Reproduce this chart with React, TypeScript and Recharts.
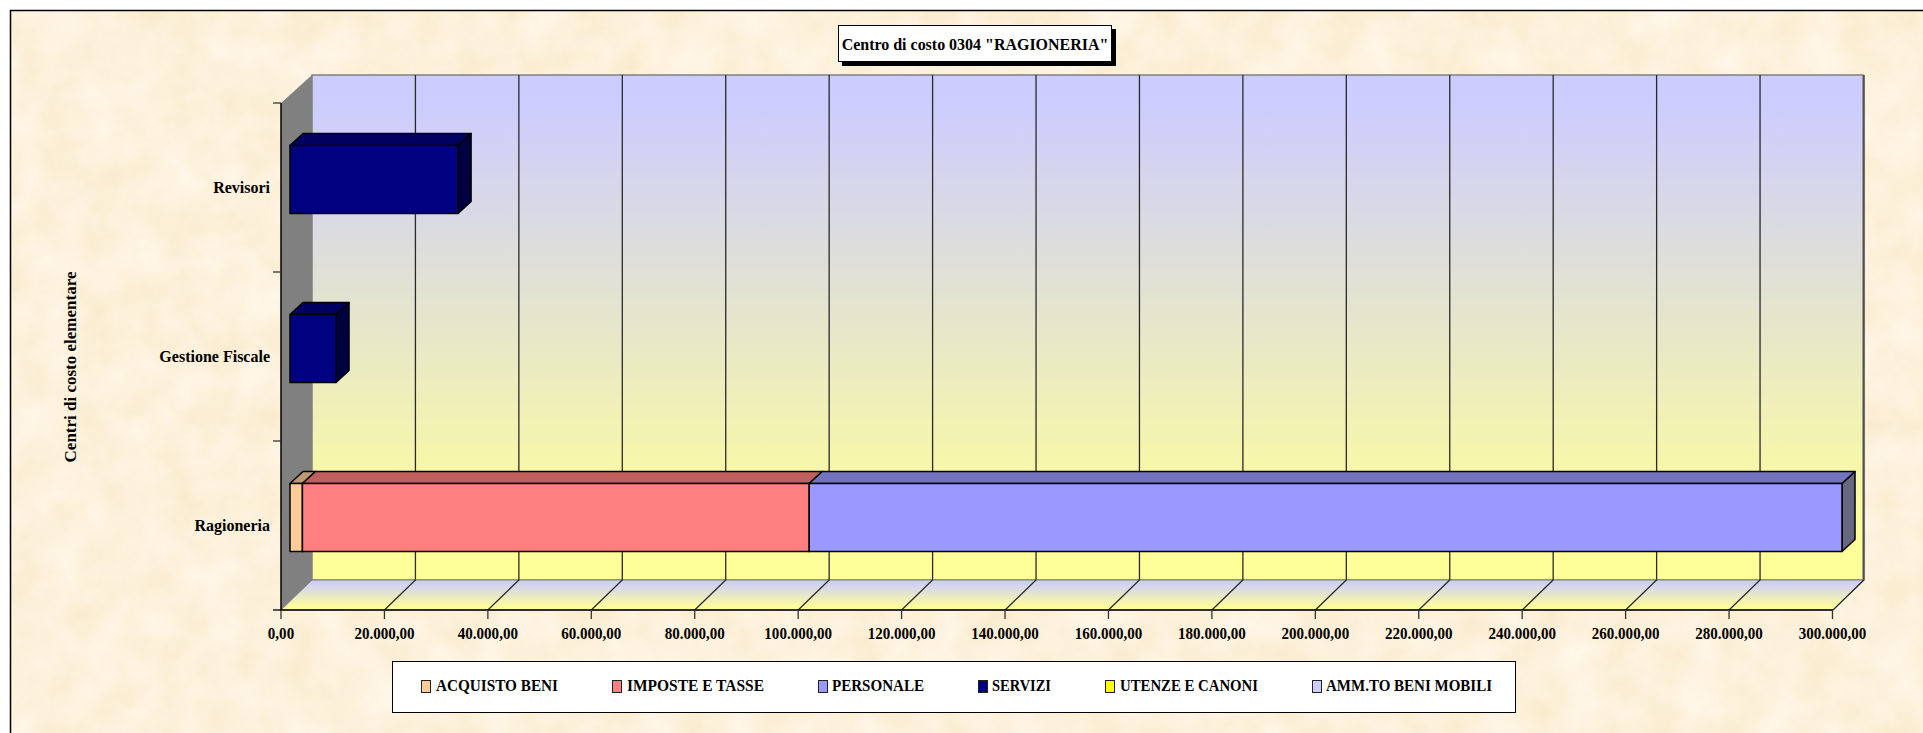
import { BarChart, Bar, XAxis, YAxis, CartesianGrid, Legend } from 'recharts';

const categories = ['Revisori', 'Gestione Fiscale', 'Ragioneria'];
const acquisto = [0, 0, 2400];
const imposte = [0, 0, 98000];
const personale = [0, 0, 199700];
const servizi = [32500, 8900, 0];
const utenze = [0, 0, 0];
const ammto = [0, 0, 0];

const xTicks = [0, 20000, 40000, 60000, 80000, 100000, 120000, 140000, 160000, 180000, 200000, 220000, 240000, 260000, 280000, 300000];
const xTickLabels = ['0,00', '20.000,00', '40.000,00', '60.000,00', '80.000,00', '100.000,00', '120.000,00', '140.000,00', '160.000,00', '180.000,00', '200.000,00', '220.000,00', '240.000,00', '260.000,00', '280.000,00', '300.000,00'];

const seriesNames = ['ACQUISTO BENI', 'IMPOSTE E TASSE', 'PERSONALE', 'SERVIZI', 'UTENZE E CANONI', 'AMM.TO BENI MOBILI'];
const seriesColors = ['#FFCC99', '#FF8080', '#9999FF', '#000080', '#FFFF00', '#CCCCFF'];
const seriesValues = [acquisto, imposte, personale, servizi, utenze, ammto];
const seriesKeys = ['acquisto', 'imposte', 'personale', 'servizi', 'utenze', 'ammto'];

const data = categories.map((name, i) => {
  const row: Record<string, string | number> = { name };
  seriesKeys.forEach((k, s) => { row[k] = seriesValues[s][i]; });
  return row;
});

const FONT = '"Liberation Serif", serif';
const W = 1923;
const H = 733;
const LEFT = 281;
const RIGHT = 1833;
const TOP = 103;
const BOTTOM = 610;
const BACK_X = 31;
const BACK_BOTTOM = 580;
const BACK_TOP = 75;
const BAND = 169;

const legendSwatchX = [421, 612, 818, 978, 1105, 1312];
const legendTextX = [436, 627, 832, 992, 1120, 1326];
const legendTextW = [122, 137, 92, 59, 138, 166];

const shade = (hex: string, f: number, fb: number) => {
  const n = parseInt(hex.slice(1), 16);
  return `rgb(${Math.round(((n >> 16) & 255) * f)},${Math.round(((n >> 8) & 255) * f)},${Math.round((n & 255) * fb)})`;
};

// 3D box: the front face comes from the library's bar rectangle
const Box = (props: any) => {
  const { x, y, width, height, fill } = props;
  if (!width || width <= 0) return null;
  const fx = x + 9;
  const fy = y - 8.5;
  const dx = 13;
  const dy = 12;
  const r = fx + width;
  const b = fy + height;
  return (
    <g stroke="#000" strokeWidth={1.5} strokeLinejoin="round">
      <polygon points={`${r},${fy} ${r + dx},${fy - dy} ${r + dx},${b - dy} ${r},${b}`} fill={shade(fill, 0.67, 0.5)} />
      <polygon points={`${fx},${fy} ${fx + dx},${fy - dy} ${r + dx},${fy - dy} ${r},${fy}`} fill={shade(fill, 0.75, 0.75)} />
      <rect x={fx} y={fy} width={width} height={height} fill={fill} />
    </g>
  );
};

const GridLine = (props: any) => {
  const { x1, index } = props;
  if (index === 0 || index === xTicks.length - 1) return <g />;
  return (
    <polyline
      points={`${x1 + BACK_X},${BACK_TOP} ${x1 + BACK_X},${BACK_BOTTOM} ${x1},${BOTTOM}`}
      fill="none"
      stroke="#2a2a2a"
      strokeWidth={1.3}
    />
  );
};

const XTick = (props: any) => {
  const { x, y, index } = props;
  return (
    <g>
      <line x1={x} x2={x} y1={BOTTOM} y2={BOTTOM + 9} stroke="#333" strokeWidth={1.3} />
      <text transform={`translate(${x},${y + 21}) scale(0.94,1)`} textAnchor="middle" fontFamily={FONT} fontSize={16} fontWeight="bold" fill="#000">
        {xTickLabels[index]}
      </text>
    </g>
  );
};

const YTick = (props: any) => {
  const { x, y, payload, index } = props;
  return (
    <g>
      <line x1={x - 8} x2={x} y1={y - BAND / 2} y2={y - BAND / 2} stroke="#333" strokeWidth={1.3} />
      {index === categories.length - 1 && <line x1={x - 8} x2={x} y1={y + BAND / 2} y2={y + BAND / 2} stroke="#000" strokeWidth={1.3} />}
      <text x={x - 11} y={y + 5} textAnchor="end" fontFamily={FONT} fontSize={16} fontWeight="bold" fill="#000">
        {payload.value}
      </text>
    </g>
  );
};

const LegendBox = () => (
  <div style={{ position: 'absolute', left: 392, top: 661, width: 1122, height: 50, background: '#fff', border: '1px solid #000', boxSizing: 'content-box' }}>
    {seriesNames.map((name, i) => (
      <div key={name}>
        <div style={{ position: 'absolute', left: legendSwatchX[i] - 393, top: 18, width: 8, height: 11, background: seriesColors[i], border: '1.5px solid #222' }} />
        <svg style={{ position: 'absolute', left: legendTextX[i] - 393, top: 12, overflow: 'visible' }} width={legendTextW[i]} height={24}>
          <text x={0} y={17} textLength={legendTextW[i]} lengthAdjust="spacingAndGlyphs" fontFamily={FONT} fontSize={16} fontWeight="bold" fill="#000">{name}</text>
        </svg>
      </div>
    ))}
  </div>
);

export default function App() {
  return (
    <div style={{ position: 'absolute', left: 0, top: 0, width: W, height: H, background: '#fff', overflow: 'hidden' }}>
      <svg width={W} height={H} style={{ position: 'absolute', left: 0, top: 0 }}>
        <defs>
          <filter id="paper" x="0" y="0" width="100%" height="100%" colorInterpolationFilters="sRGB">
            <feTurbulence type="fractalNoise" baseFrequency="0.025" numOctaves={4} seed={7} />
            <feColorMatrix type="matrix" values="0 0 0 0.03 0.975  0 0 0 0.06 0.915  0 0 0 0.14 0.79  0 0 0 0 1" />
          </filter>
          <linearGradient id="wall" x1="0" y1="0" x2="0" y2="1">
            <stop offset="0.05" stopColor="#CCCCFF" />
            <stop offset="0.92" stopColor="#FFFF99" />
          </linearGradient>
        </defs>
        <rect x={10} y={10} width={W} height={H} filter="url(#paper)" />
        <polyline points={`10.5,${H} 10.5,10.5 ${W},10.5`} fill="none" stroke="#000" strokeWidth={1.5} />
        <polygon points={`${LEFT},${TOP} ${LEFT + BACK_X},${BACK_TOP} ${LEFT + BACK_X},${BACK_BOTTOM} ${LEFT},${BOTTOM}`} fill="#808080" />
        <rect x={LEFT + BACK_X} y={BACK_TOP} width={RIGHT + 30 - LEFT - BACK_X} height={BACK_BOTTOM - BACK_TOP} fill="url(#wall)" stroke="#808080" strokeWidth={1.5} />
        <polygon points={`${LEFT},${BOTTOM} ${LEFT + BACK_X},${BACK_BOTTOM} ${RIGHT + 30},${BACK_BOTTOM} ${RIGHT},${BOTTOM}`} fill="url(#wall)" stroke="#808080" strokeWidth={1} />
        <text transform="translate(76,367) rotate(-90)" textAnchor="middle" fontFamily={FONT} fontSize={17} fontWeight="bold" fill="#000">Centri di costo elementare</text>
      </svg>
      <BarChart
        width={W}
        height={H}
        data={data}
        layout="vertical"
        margin={{ top: TOP, right: W - RIGHT, bottom: H - BOTTOM - 30, left: 0 }}
        style={{ position: 'absolute', left: 0, top: 0 }}
      >
        <CartesianGrid horizontal={false} vertical={GridLine as any} />
        <XAxis
          type="number"
          domain={[0, 300000]}
          ticks={xTicks}
          interval={0}
          height={30}
          tick={XTick as any}
          tickLine={false}
          axisLine={{ stroke: '#000', strokeWidth: 1.5 }}
        />
        <YAxis
          type="category"
          dataKey="name"
          width={LEFT}
          interval={0}
          tick={YTick as any}
          tickLine={false}
          tickSize={0}
          tickMargin={0}
          axisLine={{ stroke: '#000', strokeWidth: 1.5 }}
        />
        {seriesKeys.map((k, i) => (
          <Bar key={k} dataKey={k} name={seriesNames[i]} stackId="a" fill={seriesColors[i]} barSize={68} shape={Box as any} isAnimationActive={false} />
        ))}
        <Legend content={<LegendBox />} wrapperStyle={{ left: 0, top: 0, width: 0, height: 0 }} />
      </BarChart>
      <div style={{ position: 'absolute', left: 838, top: 25, width: 272, height: 35, background: '#fff', border: '1px solid #000', boxShadow: '4px 4px 0 #000' }}>
        <svg width={272} height={35} style={{ display: 'block' }}>
          <text transform="translate(136,24) scale(0.94,1)" textAnchor="middle" fontFamily={FONT} fontSize={17} fontWeight="bold" fill="#000">
            Centro di costo 0304 &quot;RAGIONERIA&quot;
          </text>
        </svg>
      </div>
    </div>
  );
}
